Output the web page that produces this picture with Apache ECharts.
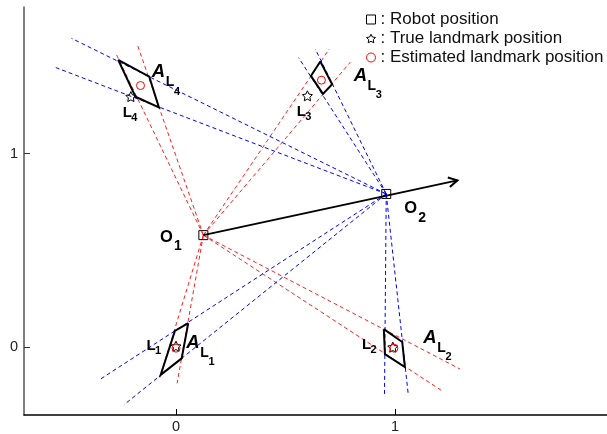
<!DOCTYPE html>
<html><head><meta charset="utf-8">
<script src="https://cdn.jsdelivr.net/npm/echarts@6/dist/echarts.min.js"></script>
<style>html,body{margin:0;padding:0;background:#fff}#c{width:607px;height:434px}</style>
</head><body><div id="c"></div>
<script>
// ---- data (axis units) ----
const xTicks = [0, 1];
const yTicks = [0, 1];
const robotPositions = [[0.125, 0.579], [0.960, 0.792]];           // O1, O2
const headingTip = [1.285, 0.862];                                   // arrow from O1
const redRayEnds = [[-0.275, 1.519], [-0.177, 1.565], [0.700, 1.541], [0.796, 1.473],
                    [-0.073, -0.156], [0.005, -0.187], [1.297, -0.113], [1.221, -0.230]];
const blueRayEnds = [[-0.477, 1.596], [-0.549, 1.445], [0.560, 1.496], [0.636, 1.541],
                     [-0.345, -0.165], [-0.237, -0.297], [0.952, -0.246], [1.060, -0.239]];
const trueLandmarks = [[0.0, 0.005], [0.99, 0.0], [0.600, 1.299], [-0.206, 1.295]];
const estLandmarks = [[0.0, -0.005], [0.995, -0.005], [0.664, 1.380], [-0.162, 1.352]];
const regionL1 = [[0.056, 0.124], [-0.005, 0.084], [-0.070, -0.143], [0.026, -0.058]];
const regionL2 = [[0.949, 0.093], [1.033, 0.027], [1.045, -0.103], [0.954, -0.036]];
const regionL3 = [[0.659, 1.476], [0.713, 1.359], [0.671, 1.309], [0.616, 1.402]];
const regionL4 = [[-0.264, 1.485], [-0.122, 1.398], [-0.078, 1.239], [-0.185, 1.294]];
const labelTexts = ['O', 'O', 'L', 'L', 'L', 'L', 'A', 'A', 'A', 'A'];
const labelSubs = ['1', '2', '1', '2', '3', '4', '1', '2', '3', '4'];
const labelAnchors = [[-0.0435, 0.5696], [1.071, 0.7165], [-0.114, 0.0077], [0.870, 0.0103],
                      [0.572, 1.214], [-0.222, 1.209], [0.0778, 0.0232], [1.160, 0.049],
                      [0.842, 1.402], [-0.080, 1.420]];
const legendNames = ['Robot position', 'True landmark position', 'Estimated landmark position'];

// ---- styles ----
const FONT = 'Arial, "Liberation Sans", sans-serif';
const STAR = 'path://M0,-10 L2.94,-4.05 L9.51,-3.09 L4.76,1.55 L5.88,8.09 L0,5 L-5.88,8.09 L-4.76,1.55 L-9.51,-3.09 L-2.94,-4.05 Z';
const rayStyle = c => ({color: c, width: 1, type: [4, 3], opacity: 1});

const rays = (from, ends) => ends.map(e => ({coords: [from, e]}));
const regions = [regionL1, regionL2, regionL3, regionL4].map(r => ({coords: r.concat([r[0]])}));

const chart = echarts.init(document.getElementById('c'), null, {renderer: 'canvas'});
chart.setOption({
  animation: false,
  backgroundColor: '#fff',
  grid: {left: 24, right: 0, top: 7, bottom: 18},
  xAxis: {
    type: 'value', min: -0.694, max: 1.968,
    axisLine: {show: true, onZero: false, lineStyle: {color: '#000', width: 1.5}},
    axisTick: {show: true, inside: true, length: 6, customValues: xTicks, lineStyle: {color: '#000'}},
    axisLabel: {customValues: xTicks, margin: 4, color: '#222', fontSize: 14.5, fontFamily: FONT},
    splitLine: {show: false}
  },
  yAxis: {
    type: 'value', min: -0.3505, max: 1.758,
    axisLine: {show: true, onZero: false, lineStyle: {color: '#555', width: 1.5}},
    axisTick: {show: true, inside: true, length: 6, customValues: yTicks, lineStyle: {color: '#333'}},
    axisLabel: {customValues: yTicks, margin: 6, color: '#222', fontSize: 14.5, fontFamily: FONT},
    splitLine: {show: false}
  },
  legend: {
    orient: 'vertical', left: 366, top: 11, padding: 0, itemGap: 2,
    itemWidth: 9, itemHeight: 9,
    data: legendNames,
    formatter: n => ': ' + n,
    itemStyle: {borderWidth: 1},
    textStyle: {fontSize: 17, color: '#111', fontFamily: FONT, padding: [0, 0, 0, 0]}
  },
  series: [
    {type: 'lines', coordinateSystem: 'cartesian2d', data: rays(robotPositions[0], redRayEnds),
     lineStyle: rayStyle('#ff2020'), silent: true, z: 1},
    {type: 'lines', coordinateSystem: 'cartesian2d', data: rays(robotPositions[1], blueRayEnds),
     lineStyle: rayStyle('#0000ff'), silent: true, z: 1},
    {type: 'lines', coordinateSystem: 'cartesian2d', polyline: true, data: regions,
     lineStyle: {color: '#000', width: 2, opacity: 1, join: 'miter'}, silent: true, z: 2},
    {type: 'custom', coordinateSystem: 'cartesian2d', z: 3, silent: true,
     data: [[robotPositions[0][0], robotPositions[0][1], headingTip[0], headingTip[1]]],
     encode: {x: [0, 2], y: [1, 3]},
     renderItem: (params, api) => {
       const p0 = api.coord([api.value(0), api.value(1)]);
       const p1 = api.coord([api.value(2), api.value(3)]);
       const ang = Math.atan2(p1[1] - p0[1], p1[0] - p0[0]);
       const L = 10, a = 0.5;
       const h1 = [p1[0] - L * Math.cos(ang - a), p1[1] - L * Math.sin(ang - a)];
       const h2 = [p1[0] - L * Math.cos(ang + a), p1[1] - L * Math.sin(ang + a)];
       return {type: 'group', children: [
         {type: 'line', shape: {x1: p0[0], y1: p0[1], x2: p1[0], y2: p1[1]}, style: {stroke: '#000', lineWidth: 2}},
         {type: 'polyline', shape: {points: [h1, p1, h2]}, style: {stroke: '#000', lineWidth: 2, fill: null}}
       ]};
     }},
    {name: legendNames[0], type: 'scatter', data: robotPositions, symbol: 'rect', symbolSize: 9, z: 5,
     itemStyle: {color: 'rgba(255,255,255,0)', borderColor: '#000', borderWidth: 1, opacity: 1}},
    {name: legendNames[1], type: 'scatter', data: trueLandmarks, symbol: STAR, symbolSize: 10, z: 5,
     itemStyle: {color: 'rgba(255,255,255,0)', borderColor: '#000', borderWidth: 1, opacity: 1}},
    {name: legendNames[2], type: 'scatter', data: estLandmarks, symbol: 'circle', symbolSize: 8, z: 6,
     itemStyle: {color: 'rgba(255,255,255,0)', borderColor: '#ff0000', borderWidth: 1, opacity: 1}},
    {type: 'custom', coordinateSystem: 'cartesian2d', z: 7, silent: true,
     data: labelAnchors.map((p, i) => [p[0], p[1], i]),
     encode: {x: 0, y: 1},
     renderItem: (params, api) => {
       const p = api.coord([api.value(0), api.value(1)]);
       const i = api.value(2);
       const t = labelTexts[i], s = labelSubs[i];
       const txt = (x, y, text, size, italic) => ({type: 'text', x: x, y: y, style: {
         text: text, fontSize: size, fontWeight: 'bold', fontStyle: italic ? 'italic' : 'normal',
         fontFamily: FONT, fill: '#000', align: 'center', verticalAlign: 'middle'}});
       let kids;
       if (t === 'O') kids = [txt(p[0], p[1], 'O', 16.5), txt(p[0] + 11.5, p[1] + 9.5, s, 14)];
       else if (t === 'L') kids = [txt(p[0], p[1], 'L', 15), txt(p[0] + 7, p[1] + 5, s, 11)];
       else kids = [txt(p[0], p[1], 'A', 18.5, true), txt(p[0] + 11.5, p[1] + 10, 'L', 14),
                    txt(p[0] + 18.5, p[1] + 19.5, s, 11)];
       return {type: 'group', children: kids};
     }}
  ]
});
</script></body></html>
